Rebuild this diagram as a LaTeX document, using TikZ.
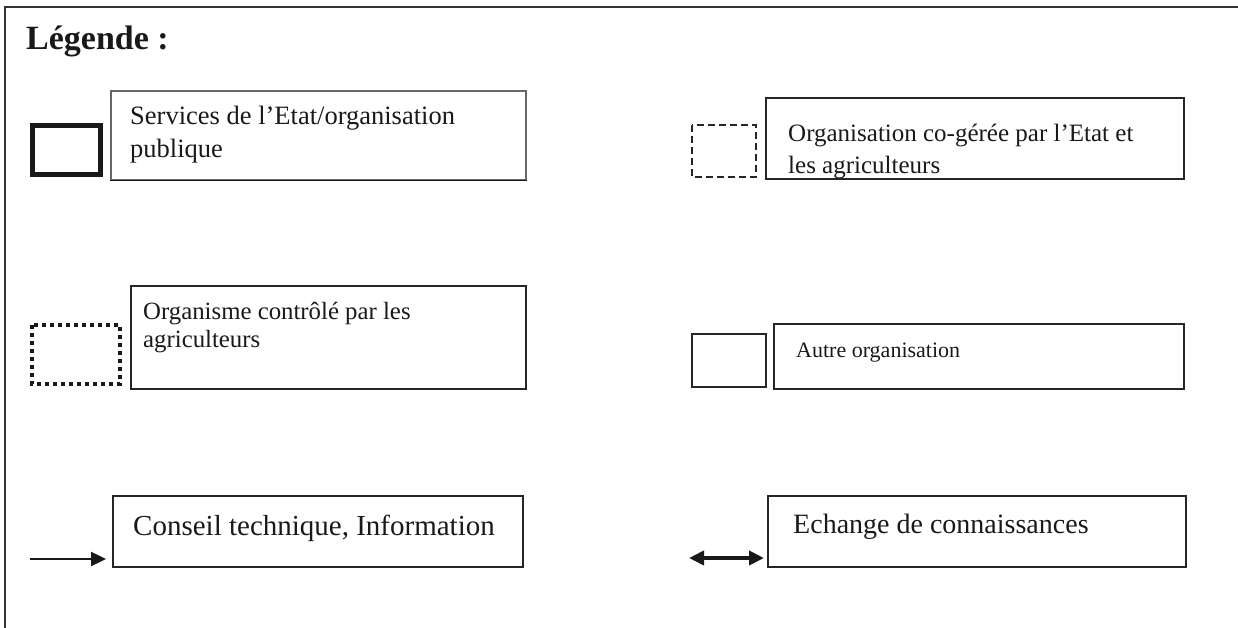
\documentclass[tikz,border=0pt]{standalone}
\usepackage{fontspec}
\setmainfont{Liberation Serif}
\usetikzlibrary{arrows.meta,positioning}

\tikzset{
  txtbox/.style={draw=black!85, line width=1.6pt, inner sep=0pt, anchor=north west},
  lbl/.style={anchor=base west, inner sep=0pt, align=left, text=black!90},
}

\begin{document}
\begin{tikzpicture}[x=1pt,y=-1pt,>={Triangle[length=15pt,width=14pt]},
      line join=miter]

    \useasboundingbox (0,0) rectangle (1238,628);
    % cadre
    \draw[black!80, line width=1.6pt] (5,628) -- (5,7) -- (1238,7);

    \node[lbl, font=\bfseries\fontsize{34}{40}\selectfont] (titre) at (26,50) {Légende :};

    % Etat
    \draw[black!90, line width=5pt] (32.5,125.5) rectangle (100.5,174.5);
    \node[txtbox, draw=black!60, minimum width=415pt, minimum height=89pt] (etat) at (110,90) {};
    \draw[black!90, line width=1.6pt] (etat.south west) -- (etat.south east);
    \node[lbl, font=\fontsize{26.5}{33}\selectfont] (etattxt) at (130,158)
      {Services de l’Etat/organisation\\publique};

    % co-gestion
    \draw[black!85, line width=1.8pt, dash pattern=on 7pt off 4pt] (692,125) rectangle (756,177);
    \node[txtbox, minimum width=418pt, minimum height=81pt] (cogere) at (765,97) {};
    \begin{scope}
      \clip (cogere.south west) rectangle (cogere.north east);
      \node[lbl, font=\fontsize{25}{32}\selectfont] (cogeretxt) at (788,174)
        {Organisation co-gérée par l’Etat et\\les agriculteurs};
    \end{scope}

    % agriculteurs
    \draw[black!90, line width=4pt, dash pattern=on 4pt off 4pt] (32,325) rectangle (120,384);
    \node[txtbox, minimum width=395pt, minimum height=103pt] (agri) at (130,285) {};
    \node[lbl, font=\fontsize{24.8}{28}\selectfont] (agritxt) at (143,347)
      {Organisme contrôlé par les\\agriculteurs};

    % autre
    \draw[black!85, line width=1.6pt] (692,334) rectangle (766,387);
    \node[txtbox, minimum width=410pt, minimum height=65pt] (autre) at (773,323) {};
    \node[lbl, font=\fontsize{22}{29}\selectfont] (autretxt) at (796,357) {Autre organisation};

    % conseil
    \coordinate (cA) at (30,559);
    \coordinate (cB) at (106,559);
    \draw[->, black!90, line width=2.4pt] (cA) -- (cB);
    \node[txtbox, minimum width=410pt, minimum height=71pt] (conseil) at (112,495) {};
    \node[lbl, font=\fontsize{29}{34}\selectfont] (conseiltxt) at (133,535)
      {Conseil technique, Information};

    % echange
    \coordinate (eA) at (689,558);
    \coordinate (eB) at (764,558);
    \draw[<->, black!90, line width=3.8pt] (eA) -- (eB);
    \node[txtbox, minimum width=418pt, minimum height=71pt] (echange) at (767,495) {};
    \node[lbl, font=\fontsize{28}{34}\selectfont] (echangetxt) at (793,533)
      {Echange de connaissances};
  \end{tikzpicture}
\end{document}
